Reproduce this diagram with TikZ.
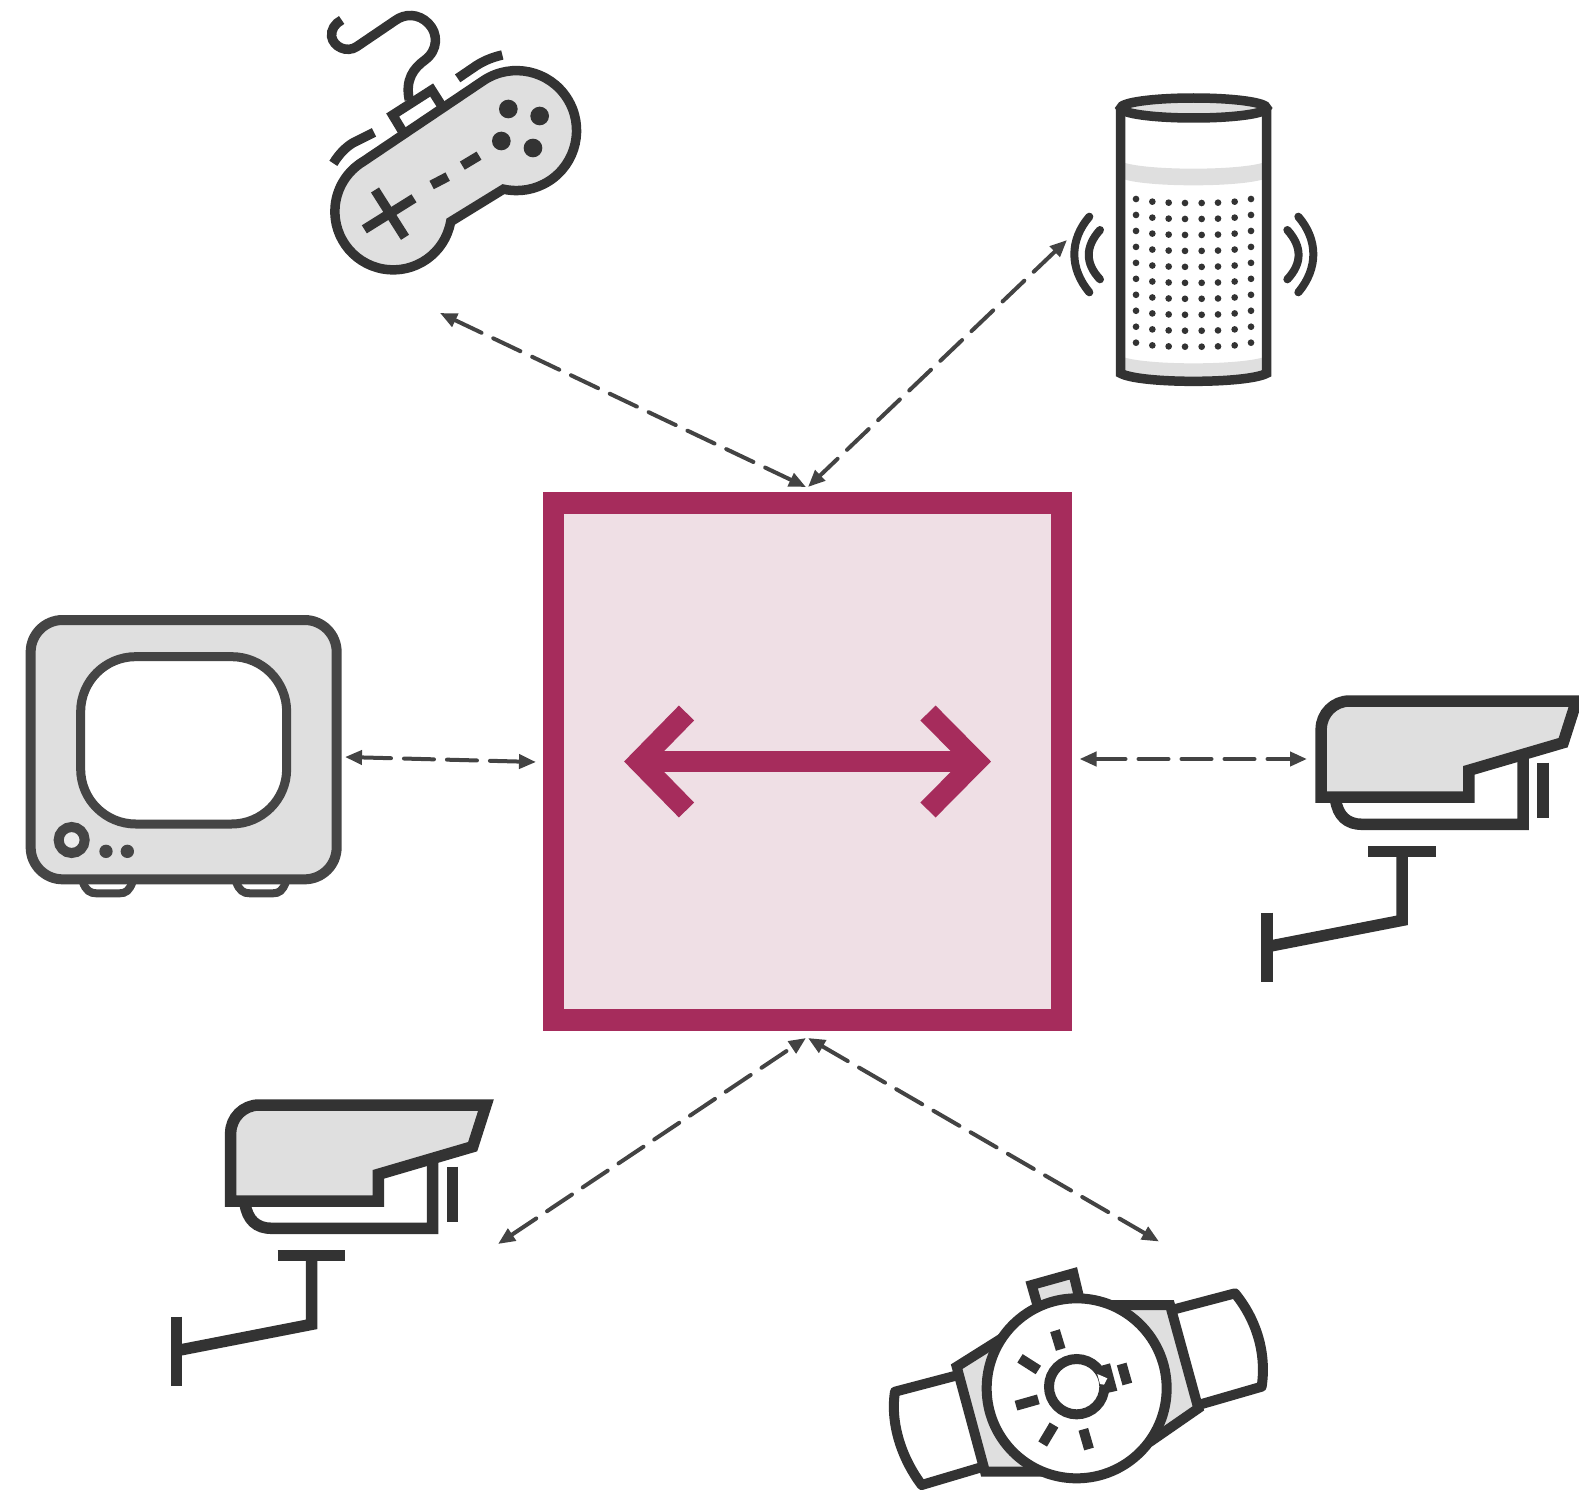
\documentclass[tikz,border=0pt]{standalone}
\usetikzlibrary{arrows.meta}
\definecolor{ink}{HTML}{333333}
\definecolor{tvink}{HTML}{454545}
\definecolor{pale}{HTML}{DFDFDF}
\definecolor{plum}{HTML}{A62C5C}
\definecolor{blush}{HTML}{EFDFE5}
\tikzset{
  link/.style={draw=ink!92!white,line width=4pt,dash pattern=on 30pt off 13pt,line cap=round,
    {Triangle[length=17pt,width=14pt]}-{Triangle[length=17pt,width=14pt]}},
  ic8/.style={draw=ink,line width=9.5pt},
  ic9/.style={draw=ink,line width=10pt},
  cam/.style={draw=ink,line width=11.5pt,miter limit=20},
  hubline/.style={draw=plum,line width=21.3pt,miter limit=10},
  wave/.style={draw=ink,line width=8pt,line cap=round}
}
\newcommand{\camicon}[2]{%
\begin{scope}[shift={(#1,#2)},scale=1/3]
  \draw[cam] (255,340) .. controls (262,390) and (290,415) .. (335,415) -- (818,415) -- (818,215);
  \draw[cam,fill=pale] (212,333) -- (212,130) arc[start angle=180,end angle=270,radius=85] -- (978,45) -- (938,170) -- (655,253) -- (655,333) -- cycle;
  \draw[cam] (878,230) -- (878,395);
  \draw[cam] (353,497) -- (556,497);
  \draw[cam] (455,497) -- (455,703) -- (50,782);
  \draw[cam] (50,680) -- (50,888);
\end{scope}}
\begin{document}
\begin{tikzpicture}[x=1pt,y=-1pt]
\useasboundingbox (0,0) rectangle (1579,1493);
\clip (0,0) rectangle (1579,1493);
% hub
\node[hubline,fill=blush,rectangle,minimum width=508.5pt,minimum height=517pt,inner sep=0pt,anchor=center] (hub) at (807.5,761.5) {};
\draw[hubline] (hub.center) ++(-168,0) -- ++(336,0);
\draw[hubline] (686.5,713) -- (639,761.5) -- (686.5,810);
\draw[hubline] (928,713) -- (976,761.5) -- (928,810);
% connector ends
\coordinate (padEnd) at (440,313);
\coordinate (hubTopL) at (806,487);
\coordinate (speakerEnd) at (1067,240);
\coordinate (hubTopR) at (808,487);
\coordinate (tvEnd) at (345,757);
\coordinate (hubLeft) at (536,762);
\coordinate (hubRight) at (1079.5,759);
\coordinate (camREnd) at (1307,759);
\coordinate (camLEnd) at (498,1244);
\coordinate (hubBotL) at (806,1038);
\coordinate (watchEnd) at (1159,1241.5);
\coordinate (hubBotR) at (808,1038);
\draw[link] (padEnd) -- (hubTopL);
\draw[link] (speakerEnd) -- (hubTopR);
\draw[link] (tvEnd) -- (hubLeft);
\draw[link] (hubRight) -- (camREnd);
\draw[link] (camLEnd) -- (hubBotL);
\draw[link] (hubBotR) -- (watchEnd);
% gamepad
\begin{scope}[shift={(310,0)},scale=1/3]
  \draw[ic8] (298,300) .. controls (285,240) and (310,205) .. (345,180) .. controls (385,150) and (385,100) .. (355,70) .. controls (325,40) and (285,40) .. (255,62) -- (140,140) .. controls (110,160) and (70,140) .. (65,110) .. controls (62,90) and (75,70) .. (95,60);
  \draw[ic8] (443,235) -- (490,203) .. controls (515,185) and (545,172) .. (577,165);
  \draw[ic8] (70,490) .. controls (90,458) and (110,440) .. (130,428) -- (192,397);
  \draw[ic8,fill=white] (280,398) -- (248,345) -- (365,270) -- (400,325);
  \draw[ic8,fill=pale] (156,487) -- (523,240) arc[start angle=237.5,end angle=462.6,radius=180] -- (422,665) arc[start angle=10,end angle=237.5,radius=175] -- cycle;
  \fill[ink] (595,327) circle[radius=28] (689,348) circle[radius=28] (574,423) circle[radius=28] (669,444) circle[radius=28];
  \draw[ic8] (365,555) -- (413,530);
  \draw[ic8] (457,497) -- (507,467);
  \draw[ic8] (163,688) -- (312,595);
  \draw[ic8] (195,570) -- (285,712);
\end{scope}
% speaker
\begin{scope}[shift={(1050,80)},scale=1/3]
  \fill[pale] (222,248) .. controls (300,272) and (560,272) .. (640,248) -- (640,298) .. controls (560,322) and (300,322) .. (222,298) -- cycle;
  \fill[pale] (222,832) .. controls (300,856) and (560,856) .. (640,832) -- (640,880) .. controls (560,900) and (300,900) .. (222,880) -- cycle;
  \draw[ic8] (212,85) -- (212,880) .. controls (270,912) and (590,912) .. (650,880) -- (650,85);
  \draw[ic8,fill=pale] (431,84) ellipse[x radius=219,y radius=30];
  \foreach \x/\d in {258/0,307/8,356/11,405/12,455/12,504/11,554/8,603/0}
    \foreach \r in {0,...,9}
      \fill[ink] (\x,{357+\d+47.9*\r}) circle[radius=10];
  \draw[wave] (118,410) .. controls (58,480) and (58,565) .. (118,637);
  \draw[wave] (150,450) .. controls (105,500) and (105,550) .. (150,598);
  \draw[wave] (745,410) .. controls (805,480) and (805,565) .. (745,637);
  \draw[wave] (712,450) .. controls (757,500) and (757,550) .. (712,598);
\end{scope}
% tv
\begin{scope}[shift={(10,600)},scale=1/3]
  \draw[draw=tvink,line width=8pt,fill=white] (218,845) .. controls (228,872) and (240,880) .. (260,880) -- (328,880) .. controls (348,880) and (358,872) .. (368,845);
  \draw[draw=tvink,line width=8pt,fill=white] (678,845) .. controls (688,872) and (700,880) .. (720,880) -- (788,880) .. controls (808,880) and (818,872) .. (828,845);
  \draw[draw=tvink,line width=10pt,fill=pale,rounded corners=32pt] (62,60) rectangle (980,838);
  \draw[draw=tvink,line width=9pt,fill=white,rounded corners=55pt] (212,170) rectangle (830,672);
  \draw[draw=tvink,line width=10pt,fill=pale!60!white] (185,720) circle[radius=39];
  \fill[tvink] (288,754) circle[radius=20] (352,754) circle[radius=20];
\end{scope}
% cameras
\camicon{1250.5}{686}
\camicon{160}{1090}
% watch
\begin{scope}[shift={(870,1250)},scale=1/3]
  \draw[ic9,fill=white,line join=round] (265,375) -- (75,425) .. controls (60,520) and (95,625) .. (155,705) -- (340,650);
  \draw[ic9,fill=white,line join=round] (905,180) -- (1095,130) .. controls (1160,210) and (1190,310) .. (1175,410) -- (985,465);
  \draw[ic9,fill=pale] (260,350) -- (400,262) -- (510,665) -- (345,665) -- cycle;
  \draw[ic9,fill=pale] (730,165) -- (900,165) -- (985,475) -- (855,565) -- cycle;
  \draw[ic9,fill=pale] (485,105) -- (610,70) -- (628,145) -- (505,175) -- cycle;
  \draw[ic9,fill=white] (620,415) circle[radius=270];
  \draw[ic9] (620,410) circle[radius=83];
  \fill[ink] (695,347) -- (720,340) -- (742,422) -- (707,430) -- cycle;
  \fill[white] (682,372) -- (712,385) -- (702,404) -- (690,402) -- cycle;
  \draw[ic9] (555,242) -- (572,298);
  \draw[ic9] (450,325) -- (505,360);
  \draw[ic9] (438,467) -- (505,448);
  \draw[ic9] (552,525) -- (518,582);
  \draw[ic9] (640,538) -- (657,597);
  \draw[ic9] (755,342) -- (772,402);
\end{scope}
\end{tikzpicture}
\end{document}
